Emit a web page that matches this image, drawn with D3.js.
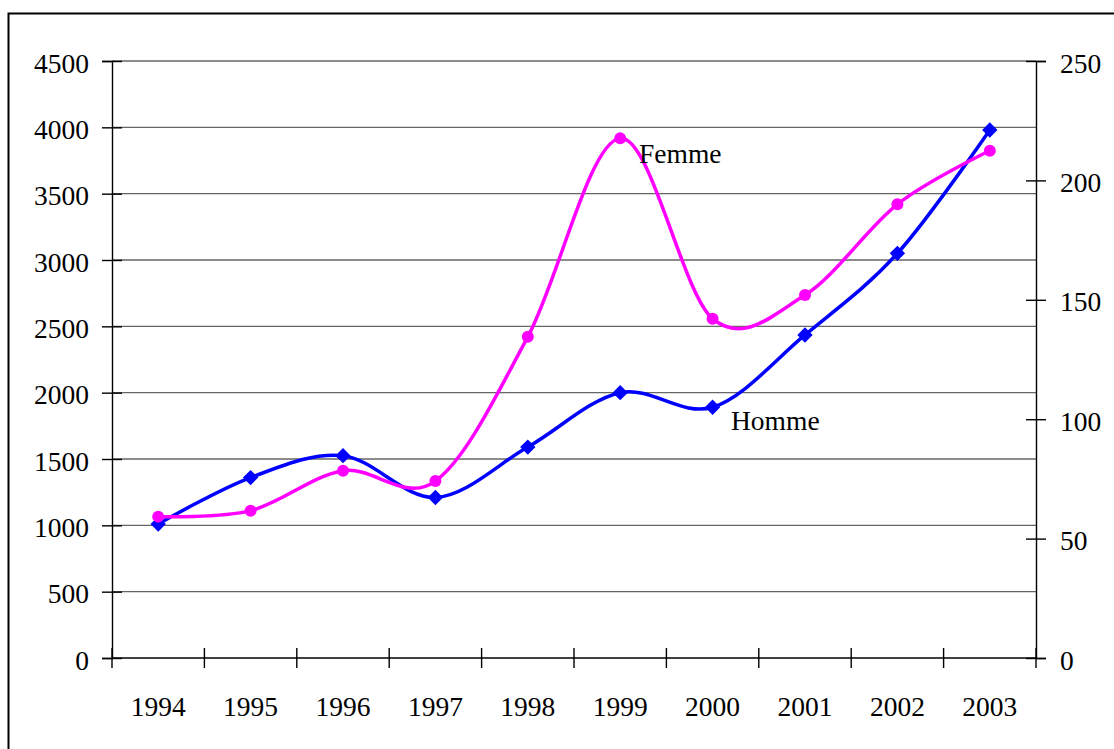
<!DOCTYPE html>
<html>
<head>
<meta charset="utf-8">
<script src="https://cdn.jsdelivr.net/npm/d3@7"></script>
<style>
  body { margin: 0; background: #fff; }
  svg text { font-family: "Liberation Serif", "Times New Roman", serif; fill: #000; }
</style>
</head>
<body>
<svg id="chart"></svg>
<script>
// data
var years = ["1994", "1995", "1996", "1997", "1998", "1999", "2000", "2001", "2002", "2003"];
var homme = [1010, 1360, 1525, 1210, 1590, 2000, 1890, 2435, 3050, 3980];   // left axis
var femme = [59.2, 61.7, 78.4, 74.1, 134.5, 217.6, 142.1, 152, 190, 212.4]; // right axis
var leftTicks = [0, 500, 1000, 1500, 2000, 2500, 3000, 3500, 4000, 4500];
var rightTicks = [0, 50, 100, 150, 200, 250];

var width = 1114,
    height = 749;
var plotLeft = 112, plotRight = 1036, plotTop = 61, plotBottom = 658;
var FONT = 27.5;

var svg = d3.select("#chart")
    .attr("width", width)
    .attr("height", height);

// outer frame (runs off the right and bottom edges)
svg.append("rect")
    .attr("x", 8.5).attr("y", 13.5)
    .attr("width", 1200).attr("height", 800)
    .attr("fill", "none")
    .attr("stroke", "#000")
    .attr("stroke-width", 2);

var x = d3.scaleBand().domain(years).range([plotLeft, plotRight]);
var yLeft = d3.scaleLinear().domain([0, 4500]).range([plotBottom, plotTop]);
var yRight = d3.scaleLinear().domain([0, 250]).range([plotBottom, plotTop]);

// gridlines
svg.append("g").selectAll("line")
    .data(leftTicks.filter(function(d) { return d > 0; }))
    .enter().append("line")
    .attr("x1", plotLeft).attr("x2", plotRight)
    .attr("y1", function(d) { return yLeft(d); })
    .attr("y2", function(d) { return yLeft(d); })
    .attr("stroke", "#666")
    .attr("stroke-width", 1.4);

// left axis
var gl = svg.append("g")
    .attr("transform", "translate(" + plotLeft + ",0)")
    .call(d3.axisLeft(yLeft).tickValues(leftTicks).tickSize(10).tickPadding(13).tickFormat(d3.format("d")));
gl.select(".domain").attr("stroke", "#000").attr("stroke-width", 1.4);
gl.selectAll(".tick line").attr("x1", 10).attr("stroke", "#000").attr("stroke-width", 1.4);
gl.selectAll(".tick text").attr("font-size", FONT).attr("font-family", "Liberation Serif").attr("dy", "0.4em").attr("fill", "#000");

// right axis
var gr = svg.append("g")
    .attr("transform", "translate(" + plotRight + ",0)")
    .call(d3.axisRight(yRight).tickValues(rightTicks).tickSize(10).tickPadding(14).tickFormat(d3.format("d")));
gr.select(".domain").attr("stroke", "#000").attr("stroke-width", 1.4);
gr.selectAll(".tick line").attr("x1", -10).attr("stroke", "#000").attr("stroke-width", 1.4);
gr.selectAll(".tick text").attr("font-size", FONT).attr("font-family", "Liberation Serif").attr("dy", "0.4em").attr("fill", "#000");

// bottom axis: ticks at category boundaries
svg.append("line")
    .attr("x1", plotLeft).attr("x2", plotRight)
    .attr("y1", plotBottom).attr("y2", plotBottom)
    .attr("stroke", "#000").attr("stroke-width", 1.4);
var edges = years.map(function(d) { return x(d); }).concat([plotRight]);
svg.append("g").selectAll("line")
    .data(edges)
    .enter().append("line")
    .attr("x1", function(d) { return d; })
    .attr("x2", function(d) { return d; })
    .attr("y1", plotBottom - 10).attr("y2", plotBottom + 10)
    .attr("stroke", "#000").attr("stroke-width", 1.4);
svg.append("g").selectAll("text")
    .data(years)
    .enter().append("text")
    .attr("x", function(d) { return x(d) + x.bandwidth() / 2; })
    .attr("y", 716)
    .attr("text-anchor", "middle")
    .attr("font-size", FONT)
    .text(function(d) { return d; });

function cx(d, i) { return x(years[i]) + x.bandwidth() / 2; }

// Homme line (blue, diamonds)
var lineH = d3.line()
    .x(cx)
    .y(function(d) { return yLeft(d); })
    .curve(d3.curveCatmullRom.alpha(0));
svg.append("path")
    .datum(homme)
    .attr("d", lineH)
    .attr("fill", "none")
    .attr("stroke", "#0000ff")
    .attr("stroke-width", 3.5);
svg.append("g").selectAll("path")
    .data(homme)
    .enter().append("path")
    .attr("d", d3.symbol(d3.symbolDiamond2, 150))
    .attr("transform", function(d, i) { return "translate(" + cx(d, i) + "," + yLeft(d) + ")"; })
    .attr("fill", "#0000ff");

// Femme line (magenta, circles)
var lineF = d3.line()
    .x(cx)
    .y(function(d) { return yRight(d); })
    .curve(d3.curveCatmullRom.alpha(0));
svg.append("path")
    .datum(femme)
    .attr("d", lineF)
    .attr("fill", "none")
    .attr("stroke", "#ff00ff")
    .attr("stroke-width", 3.5);
svg.append("g").selectAll("circle")
    .data(femme)
    .enter().append("circle")
    .attr("cx", cx)
    .attr("cy", function(d) { return yRight(d); })
    .attr("r", 6)
    .attr("fill", "#ff00ff");

// series labels
svg.append("text")
    .attr("x", 639).attr("y", 163)
    .attr("font-size", FONT)
    .text("Femme");
svg.append("text")
    .attr("x", 731).attr("y", 430)
    .attr("font-size", FONT)
    .text("Homme");
</script>
</body>
</html>
